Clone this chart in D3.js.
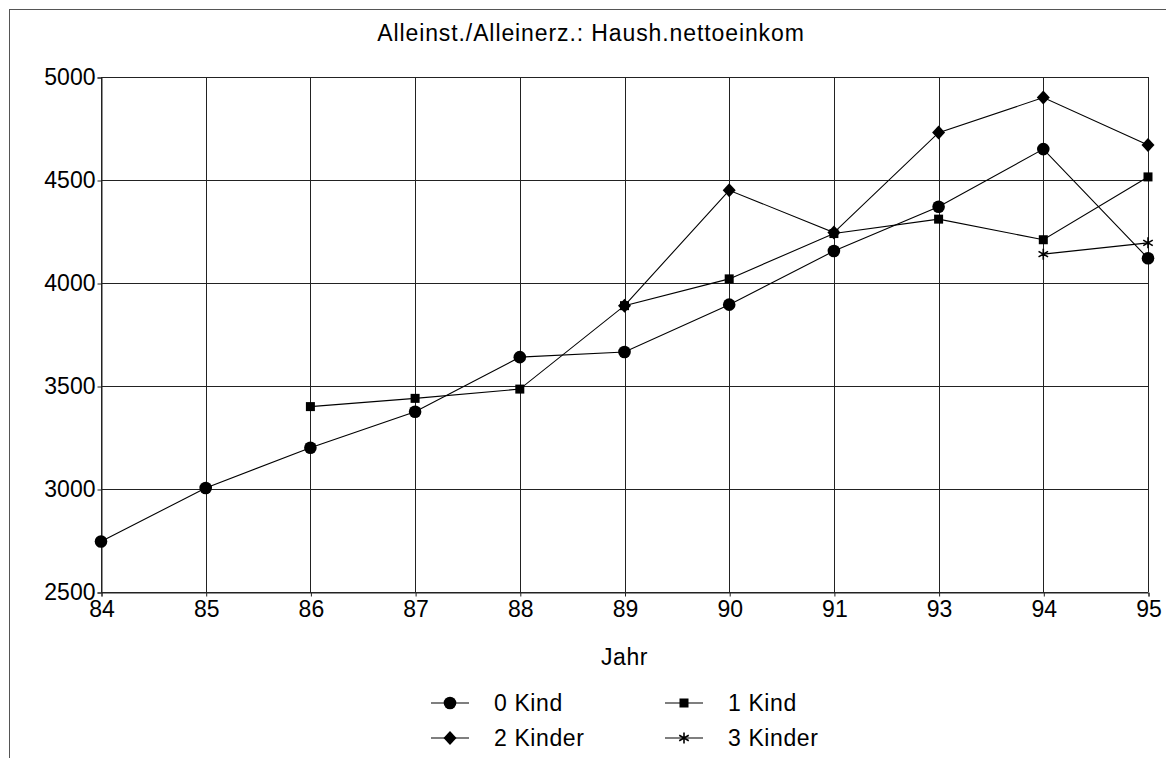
<!DOCTYPE html>
<html>
<head>
<meta charset="utf-8">
<script src="https://cdn.jsdelivr.net/npm/d3@7"></script>
<style>
  html, body { margin: 0; padding: 0; background: #fff; }
  svg { display: block; font-family: "Liberation Sans", Arial, sans-serif; }
</style>
</head>
<body>
<svg id="chart" width="1166" height="758"></svg>
<script>
// ---- data ----
const title = "Alleinst./Alleinerz.: Haush.nettoeinkom";
const xTitle = "Jahr";
const years = ["84", "85", "86", "87", "88", "89", "90", "91", "93", "94", "95"];
const yTicks = [2500, 3000, 3500, 4000, 4500, 5000];
const seriesNames = ["0 Kind", "1 Kind", "2 Kinder", "3 Kinder"];
const kind0 = [2745, 3005, 3200, 3375, 3640, 3665, 3895, 4155, 4370, 4650, 4120];
const kind1 = [null, null, 3400, 3440, 3485, 3890, 4020, 4240, 4310, 4210, 4515];
const kind2 = [null, null, null, null, null, 3890, 4450, 4245, 4730, 4900, 4670];
const kind3 = [null, null, null, null, null, null, null, null, null, 4140, 4195];
const markerTypes = ["circle", "square", "diamond", "star"];

const seriesValues = [kind0, kind1, kind2, kind3];

(function () {
// ---- layout ----
const svg = d3.select("#chart");
const W = 1166, H = 758;
const pLeft = 101, pRight = 1148, pTop = 77, pBottom = 592;
const fontSize = 23;

// outer frame
svg.append("rect")
  .attr("x", 9.5).attr("y", 9.5)
  .attr("width", W + 20).attr("height", H + 20)
  .attr("fill", "none").attr("stroke", "#555").attr("stroke-width", 1);

const x = d3.scalePoint().domain(years).range([pLeft, pRight]);
const y = d3.scaleLinear().domain([2500, 5000]).range([pBottom, pTop]);

// gridlines
const grid = svg.append("g").attr("stroke", "#222").attr("stroke-width", 1);
grid.selectAll("line.h").data(yTicks).join("line")
  .attr("class", "h")
  .attr("x1", pLeft).attr("x2", pRight)
  .attr("y1", d => Math.round(y(d)) + 0.5).attr("y2", d => Math.round(y(d)) + 0.5);
grid.selectAll("line.v").data(years).join("line")
  .attr("class", "v")
  .attr("y1", pTop).attr("y2", pBottom)
  .attr("x1", d => Math.round(x(d)) + 0.5).attr("x2", d => Math.round(x(d)) + 0.5);

// axes
const yAxis = d3.axisLeft(y).tickValues(yTicks).tickSize(4).tickPadding(2).tickFormat(d3.format("d"));
const gy = svg.append("g").attr("transform", `translate(${pLeft + 0.5},0.5)`).call(yAxis);
gy.select(".domain").attr("stroke", "#222");
gy.selectAll(".tick line").attr("stroke", "#222");
gy.selectAll(".tick text").attr("font-size", fontSize).attr("fill", "#000")
  .attr("font-family", "Liberation Sans, Arial, sans-serif");

const xAxis = d3.axisBottom(x).tickSize(4).tickPadding(4);
const gx = svg.append("g").attr("transform", `translate(0.5,${pBottom + 0.5})`).call(xAxis);
gx.select(".domain").attr("stroke", "#222");
gx.selectAll(".tick line").attr("stroke", "#222");
gx.selectAll(".tick text").attr("font-size", fontSize).attr("fill", "#000")
  .attr("font-family", "Liberation Sans, Arial, sans-serif").attr("dy", "0.71em");

// title and axis title
svg.append("text").attr("x", 591).attr("y", 41).attr("text-anchor", "middle")
  .attr("font-size", fontSize).attr("letter-spacing", "0.9px").attr("fill", "#000").text(title);
svg.append("text").attr("x", (pLeft + pRight) / 2).attr("y", 665).attr("text-anchor", "middle")
  .attr("font-size", fontSize).attr("letter-spacing", "0.6px").attr("fill", "#000").text(xTitle);

// markers
function drawMarker(g, type, cx, cy) {
  if (type === "circle") {
    g.append("circle").attr("cx", cx).attr("cy", cy).attr("r", 6.3).attr("fill", "#000");
  } else if (type === "square") {
    g.append("rect").attr("x", cx - 4.5).attr("y", cy - 4.5).attr("width", 9).attr("height", 9).attr("fill", "#000");
  } else if (type === "diamond") {
    g.append("path").attr("d", `M${cx},${cy - 7}L${cx + 6.5},${cy}L${cx},${cy + 7}L${cx - 6.5},${cy}Z`).attr("fill", "#000");
  } else if (type === "star") {
    const r = 5.5;
    let d = "";
    for (let i = 0; i < 3; i++) {
      const a = Math.PI / 2 + i * Math.PI / 3;
      d += `M${cx + r * Math.cos(a)},${cy - r * Math.sin(a)}L${cx - r * Math.cos(a)},${cy + r * Math.sin(a)}`;
    }
    g.append("path").attr("d", d).attr("stroke", "#000").attr("stroke-width", 1.6).attr("fill", "none");
  }
}

const line = d3.line()
  .defined(d => d.v !== null)
  .x(d => x(d.year)).y(d => y(d.v));

seriesValues.forEach((vals, i) => {
  const pts = years.map((yr, j) => ({ year: yr, v: vals[j] }));
  const g = svg.append("g");
  g.append("path").datum(pts).attr("d", line)
    .attr("fill", "none").attr("stroke", "#000").attr("stroke-width", 1.1);
  pts.filter(p => p.v !== null).forEach(p => drawMarker(g, markerTypes[i], x(p.year), y(p.v)));
});

// legend
const legendPos = [
  { lx: 431, ty: 703 }, { lx: 665, ty: 703 },
  { lx: 431, ty: 738 }, { lx: 665, ty: 738 }
];
seriesNames.forEach((name, i) => {
  const p = legendPos[i];
  const g = svg.append("g");
  g.append("line").attr("x1", p.lx).attr("x2", p.lx + 38).attr("y1", p.ty).attr("y2", p.ty)
    .attr("stroke", "#000").attr("stroke-width", 1.1);
  drawMarker(g, markerTypes[i], p.lx + 19, p.ty);
  g.append("text").attr("x", p.lx + 63).attr("y", p.ty).attr("dy", "0.36em")
    .attr("font-size", fontSize).attr("letter-spacing", "0.6px").attr("fill", "#000").text(name);
});
})();
</script>
</body>
</html>
